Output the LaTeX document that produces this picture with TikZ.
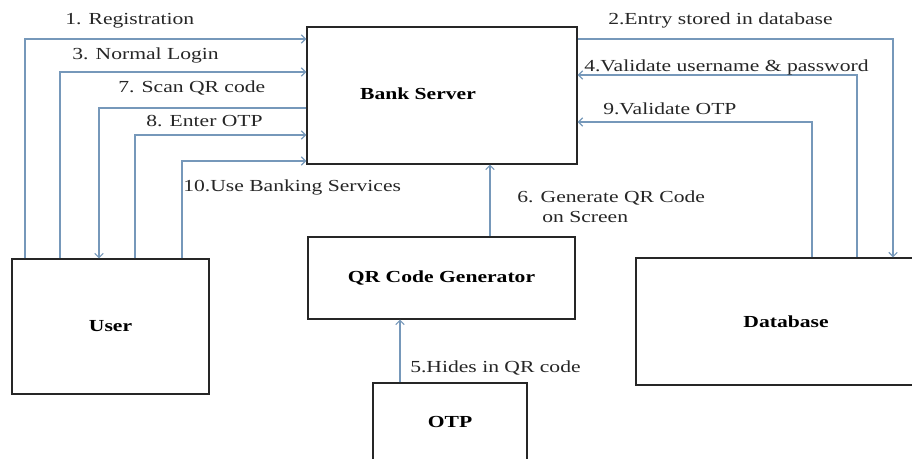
\documentclass[tikz,border=0pt]{standalone}
\usepackage{fontspec}
\setmainfont{Liberation Serif}[FakeStretch=1.28]
\usetikzlibrary{arrows.meta}
\definecolor{flowblue}{RGB}{118,152,186}
\begin{document}
\begin{tikzpicture}[x=0.025cm,y=-0.025cm,
    box/.style={draw=black!85,line width=0.9pt,inner sep=0pt,
        font=\fontsize{12}{14}\selectfont\bfseries},
    flow/.style={draw=flowblue,line width=0.8pt,-{Straight Barb[length=3pt,width=6pt]}},
    lbl/.style={anchor=base west,inner sep=0pt,text=black!85,
        font=\fontsize{12}{14}\selectfont}]
    \path[use as bounding box,clip] (0,0) rectangle (912,459);
    % boxes
    \node[box,minimum width=6.75cm,minimum height=3.425cm,
        label={[font=\fontsize{12}{14}\selectfont\bfseries,xshift=-0.6cm,yshift=0.05cm]center:Bank Server}]
        (bank) at (442,95.5) {};
    \node[box,minimum width=4.925cm,minimum height=3.375cm] (user) at (110.5,326.5) {User};
    \node[box,minimum width=6.675cm,minimum height=2.05cm] (qrgen) at (441.5,278) {QR Code Generator};
    \node[box,minimum width=3.85cm,minimum height=1.95cm] (otp) at (450,422) {OTP};
    \node[box,minimum width=7.5cm,minimum height=3.175cm] (db) at (786,321.5) {Database};
    % user <-> bank server
    \draw[flow] (user.north -| 25,0) |- (bank.west |- 0,39);
    \draw[flow] (user.north -| 60,0) |- (bank.west |- 0,72);
    \draw[flow] (bank.west |- 0,108) -| (user.north -| 99,0);
    \draw[flow] (user.north -| 135,0) |- (bank.west |- 0,135);
    \draw[flow] (user.north -| 182,0) |- (bank.west |- 0,161);
    % bank server <-> database
    \draw[flow] (bank.east |- 0,39) -| (db.north -| 893,0);
    \draw[flow] (db.north -| 857,0) |- (bank.east |- 0,75);
    \draw[flow] (db.north -| 812,0) |- (bank.east |- 0,122);
    % generator and otp
    \draw[flow] (qrgen.north -| 490,0) -- (bank.south -| 490,0);
    \draw[flow] (otp.north -| 400,0) -- (qrgen.south -| 400,0);
    % labels
    \node[lbl] (reg) at (65,25) {1. Registration};
    \node[lbl] (login) at (72,60) {3. Normal Login};
    \node[lbl] (scan) at (118,93) {7. Scan QR code};
    \node[lbl] (enter) at (146,127) {8. Enter OTP};
    \node[lbl] (use) at (183,191) {10.Use Banking Services};
    \node[lbl] (store) at (608,25) {2.Entry stored in database};
    \node[lbl] (valid) at (584,72) {4.Validate username \& password};
    \node[lbl] (votp) at (603,115) {9.Validate OTP};
    \node[lbl,align=left] (gen) at (517,222) {6. Generate QR Code\\\hspace*{0.625cm}on Screen};
    \node[lbl] (hide) at (410,372) {5.Hides in QR code};
\end{tikzpicture}
\end{document}
